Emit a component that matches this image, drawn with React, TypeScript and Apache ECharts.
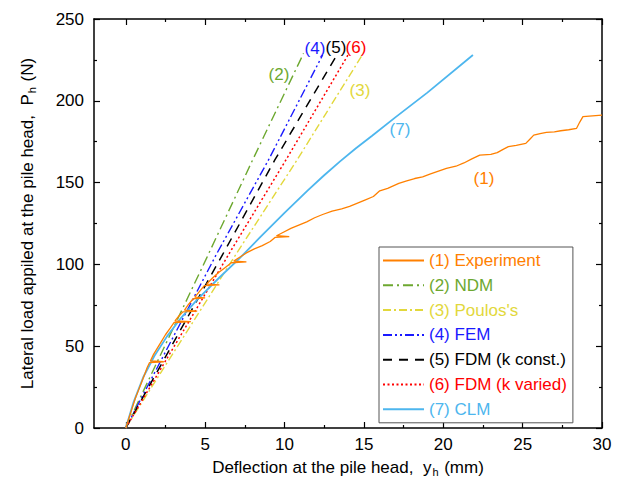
import React, { useEffect, useRef } from "react";
import * as echarts from "echarts";

const FONT = "'Liberation Sans', Arial, sans-serif";

// Series names and colours
const seriesNames = [
  "(1) Experiment",
  "(2) NDM",
  "(3) Poulos's",
  "(4) FEM",
  "(5) FDM (k const.)",
  "(6) FDM (k varied)",
  "(7) CLM",
];
const seriesColors = ["#FF8000", "#6DA830", "#E2D83C", "#1A1AFF", "#000000", "#FF0000", "#4DB6EE"];

// Data: [deflection y_h (mm), lateral load P_h (N)]
const experiment: number[][] = [
  [0, 0], [0.2, 6], [0.4, 12], [0.6, 18], [0.8, 23], [1.0, 28], [1.2, 33], [1.35, 37], [1.5, 40],
  [2.4, 40.5], [1.55, 41], [1.75, 45], [2.0, 49], [2.25, 53], [2.5, 57], [2.8, 61], [3.05, 64.5],
  [4.1, 65], [3.1, 65.5], [3.35, 68.5], [3.6, 71], [4.5, 71.5], [3.7, 72], [3.95, 75.5], [4.25, 79],
  [5.0, 79.5], [4.35, 80], [4.65, 83.5], [4.95, 87], [5.9, 87.5], [5.1, 88], [5.45, 91.5], [5.85, 95],
  [6.25, 98], [6.65, 101], [7.6, 101.5], [6.8, 102], [7.2, 104.5], [7.6, 107], [8.1, 109.5],
  [8.6, 111.5], [9.1, 114], [9.4, 116.5], [10.3, 117], [9.5, 117.5], [9.9, 119.5], [10.4, 122],
  [10.9, 124], [11.4, 126], [11.9, 128.5], [12.4, 130.5], [13.0, 132.5], [13.6, 134], [14.1, 135.5],
  [14.6, 137.5], [15.1, 139.5], [15.6, 141.5], [16.0, 145], [16.5, 146.5], [17.2, 149.5], [17.7, 151],
  [18.2, 152.5], [18.7, 153.5], [19.2, 155.3], [19.7, 157], [20.2, 158.7], [20.8, 160], [21.3, 162],
  [21.8, 164.5], [22.3, 166.8], [23.0, 167.2], [23.4, 168.3], [23.8, 170.5], [24.1, 172], [24.6, 172.8],
  [25.2, 174], [25.5, 177], [25.7, 179], [26.1, 180], [26.5, 180.7], [27.0, 181], [27.4, 181.7],
  [27.9, 182.3], [28.4, 183.2], [28.6, 187], [28.8, 190.3], [29.4, 190.8], [30, 191.3],
];
const ndm: number[][] = [[0, 0], [5.1, 104], [8.0, 164], [11.2, 229]];
const poulos: number[][] = [[0, 0], [6.8, 104], [10.8, 164], [14.9, 228]];
const fem: number[][] = [[0, 0], [5.7, 106], [9.0, 164], [12.4, 228]];
const fdmConst: number[][] = [[0, 0], [6.1, 106], [9.4, 164], [13.3, 228]];
const fdmVaried: number[][] = [[0, 0], [6.6, 108], [10.1, 164], [14.0, 228]];
const clm: number[][] = [
  [0, 0], [0.5, 16], [1.1, 31], [1.8, 44], [2.6, 56], [3.5, 67.5], [4.5, 78.5], [5.9, 92],
  [7.15, 103.5], [8.5, 117], [10, 131.5], [11.5, 145.5], [12.5, 154.5], [13.5, 163], [14.5, 171],
  [15.5, 178.5], [17, 190], [19, 205], [21.87, 228],
];

const seriesData = [experiment, ndm, poulos, fem, fdmConst, fdmVaried, clm];
const dashTypes: any[] = ["solid", [10, 4, 2, 4], [8, 3, 2, 3], [9, 3, 2, 3, 2, 3], [9, 7], [2, 2.5], "solid"];
const lineWidths = [1.3, 1.4, 1.4, 1.4, 1.5, 1.5, 1.8];

// Axis ranges / ticks
const xRange = [-2, 30];
const xTickRange = [0, 30];
const xTickStep = 5;
const yRange = [0, 250];
const yTickStep = 50;

// Curve annotation labels
const curveLabels = [
  { text: "(2)", idx: 1, x: 279, y: 74 },
  { text: "(4)", idx: 3, x: 315, y: 48 },
  { text: "(5)", idx: 4, x: 336, y: 47 },
  { text: "(6)", idx: 5, x: 356, y: 47 },
  { text: "(3)", idx: 2, x: 360, y: 90 },
  { text: "(7)", idx: 6, x: 400, y: 129 },
  { text: "(1)", idx: 0, x: 484, y: 178 },
];

const GL = 94, GR = 21, GT = 19, GB = 58;
const plotW = 623 - GL - GR;
const gridOffset = ((xTickRange[0] - xRange[0]) / (xRange[1] - xRange[0])) * plotW;

export default function App() {
  const ref = useRef<HTMLDivElement>(null);
  useEffect(() => {
    const chart = echarts.init(ref.current!, null, { renderer: "svg" });
    const tickStyle = { color: "#000", width: 1.2 };
    const option: any = {
      animation: false,
      backgroundColor: "#fff",
      textStyle: { fontFamily: FONT },
      grid: [
        { left: GL, right: GR, top: GT, bottom: GB, containLabel: false },
        { left: GL + gridOffset, right: GR, top: GT, bottom: GB, containLabel: false },
      ],
      xAxis: [
        {
          gridIndex: 0, type: "value", min: xRange[0], max: xRange[1], position: "bottom",
          axisLine: { show: true, onZero: false, lineStyle: { color: "#000", width: 1.5 } },
          axisTick: { show: false }, axisLabel: { show: false }, splitLine: { show: false },
          name: "Deflection at the pile head,  y{s|h} (mm)",
          nameLocation: "middle", nameGap: 29,
          nameTextStyle: {
            fontSize: 17, color: "#000", fontFamily: FONT, lineHeight: 20,
            rich: { s: { fontSize: 11, fontFamily: FONT, color: "#000", verticalAlign: "bottom", lineHeight: 20, padding: [0, 1, 0, 1] } },
          },
        },
        {
          gridIndex: 0, type: "value", min: xRange[0], max: xRange[1], position: "top",
          axisLine: { show: true, onZero: false, lineStyle: { color: "#000", width: 1.5 } },
          axisTick: { show: false }, axisLabel: { show: false }, splitLine: { show: false },
        },
        {
          gridIndex: 1, type: "value", min: xTickRange[0], max: xTickRange[1], interval: xTickStep, position: "bottom",
          axisLine: { show: false, onZero: false },
          axisTick: { show: true, inside: true, length: 6, lineStyle: tickStyle },
          minorTick: { show: true, splitNumber: 2, length: 3, lineStyle: tickStyle },
          axisLabel: { show: true, fontSize: 17, color: "#000", margin: 8, fontFamily: FONT },
          splitLine: { show: false },
        },
        {
          gridIndex: 1, type: "value", min: xTickRange[0], max: xTickRange[1], interval: xTickStep, position: "top",
          axisLine: { show: false, onZero: false },
          axisTick: { show: true, inside: true, length: 6, lineStyle: tickStyle },
          minorTick: { show: true, splitNumber: 2, length: 3, lineStyle: tickStyle },
          axisLabel: { show: false }, splitLine: { show: false },
        },
      ],
      yAxis: [
        {
          gridIndex: 0, type: "value", min: yRange[0], max: yRange[1], interval: yTickStep, position: "left",
          axisLine: { show: true, onZero: false, lineStyle: { color: "#000", width: 1.5 } },
          axisTick: { show: true, inside: true, length: 6, lineStyle: tickStyle },
          minorTick: { show: true, splitNumber: 2, length: 3, lineStyle: tickStyle },
          axisLabel: { show: true, fontSize: 17, color: "#000", margin: 10, fontFamily: FONT },
          splitLine: { show: false },
          name: "Lateral load appiled at the pile head,  P{s|h} (N)",
          nameLocation: "middle", nameGap: 57, nameRotate: 90,
          nameTextStyle: {
            fontSize: 17, color: "#000", fontFamily: FONT, lineHeight: 20,
            rich: { s: { fontSize: 11, fontFamily: FONT, color: "#000", verticalAlign: "bottom", lineHeight: 20, padding: [0, 1, 0, 1] } },
          },
        },
        {
          gridIndex: 0, type: "value", min: yRange[0], max: yRange[1], interval: yTickStep, position: "right",
          axisLine: { show: true, onZero: false, lineStyle: { color: "#000", width: 1.5 } },
          axisTick: { show: true, inside: true, length: 6, lineStyle: tickStyle },
          minorTick: { show: true, splitNumber: 2, length: 3, lineStyle: tickStyle },
          axisLabel: { show: false }, splitLine: { show: false },
        },
        { gridIndex: 1, type: "value", min: yRange[0], max: yRange[1], show: false },
      ],
      legend: {
        orient: "vertical", left: 379, top: 247,
        itemWidth: 41, itemHeight: 16, itemGap: 7.8,
        padding: [5, 6, 5, 3],
        borderColor: "#555", borderWidth: 1, backgroundColor: "#fff",
        selectedMode: false,
        itemStyle: { color: "rgba(0,0,0,0)", borderColor: "rgba(0,0,0,0)", borderWidth: 0, opacity: 0 },
        textStyle: { fontSize: 17, fontFamily: FONT },
        data: seriesNames.map((n, i) => ({ name: n, textStyle: { color: seriesColors[i] } })),
      },
      series: seriesData.map((d, i) => ({
        name: seriesNames[i],
        type: "line",
        xAxisIndex: 0, yAxisIndex: 0,
        data: d,
        symbol: "none",
        showSymbol: false,
        smooth: false,
        clip: true,
        z: i === 0 ? 3 : 2,
        itemStyle: { color: seriesColors[i] },
        lineStyle: { color: seriesColors[i], width: lineWidths[i], type: dashTypes[i] },
      })),
      graphic: curveLabels.map((l) => ({
        type: "text", x: l.x, y: l.y, z: 10,
        style: {
          text: l.text, fill: seriesColors[l.idx], fontSize: 17, fontFamily: FONT,
          align: "center", verticalAlign: "middle",
        },
      })),
    };
    chart.setOption(option);
    return () => chart.dispose();
  }, []);
  return <div ref={ref} style={{ position: "fixed", left: 0, top: 0, width: 623, height: 486 }} />;
}
